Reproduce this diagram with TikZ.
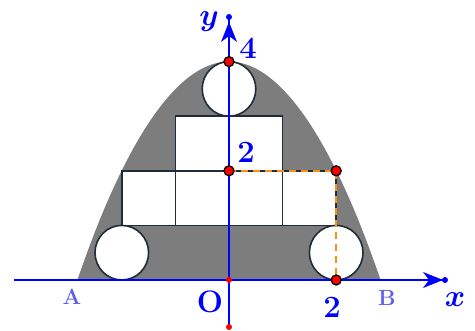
\RequirePackage{fix-cm}
\documentclass[tikz,border=0pt]{standalone}
\usepackage{fontspec}
\setmainfont{Latin Modern Roman}
\usepackage{bm}
\usetikzlibrary{arrows.meta}
\definecolor{edgec}{RGB}{30,45,55}
\definecolor{dashc}{RGB}{255,140,20}
\definecolor{lblA}{RGB}{95,95,235}
\definecolor{fillg}{RGB}{125,125,125}
\begin{document}
\begin{tikzpicture}[x=53.6pt,y=54.6pt,
  axis/.style={blue, line width=1.8pt},
  box/.style={draw=edgec, fill=white, line width=1.6pt},
  guide/.style={dashc, line width=1.6pt, dash pattern=on 7pt off 5pt},
  bigpt/.style={circle, fill=red, draw=black, line width=1.3pt, inner sep=0pt, minimum size=10pt},
  smallpt/.style={circle, fill=red, inner sep=0pt, minimum size=6pt},
  enddot/.style={circle, fill=blue, inner sep=0pt, minimum size=6pt},
  lbl/.style={blue, font=\fontsize{31}{31}\selectfont\bfseries, inner sep=0pt},
  ptlbl/.style={lblA, font=\fontsize{22}{22}\selectfont\bfseries, inner sep=0pt}]
\useasboundingbox (-229pt,-51pt) rectangle (246pt,280pt);
% region under the parabola
\fill[fillg] (-2.8284,0) parabola bend (0,4) (2.8284,0) -- cycle;
% boxes
\draw[box] (-1,2) rectangle (0,3);
\draw[box] (0,2) rectangle (1,3);
\draw[box] (-2,1) rectangle (-1,2);
\draw[box] (-1,1) rectangle (0,2);
\draw[box] (0,1) rectangle (1,2);
\draw[box] (1,1) rectangle (2,2);
% circles
\draw[box] (0,3.5) circle[radius=0.5];
\draw[box] (-2,0.5) circle[radius=0.5];
\draw[box] (2,0.5) circle[radius=0.5];
% axes
\coordinate (xs) at (-215pt,0);
\coordinate (xe) at (216pt,0);
\coordinate (xt) at (214pt,0);
\coordinate (ys) at (0,-47pt);
\coordinate (ye) at (0,263pt);
\coordinate (yt) at (0,258pt);
\draw[axis] (xs) -- (xe);
\draw[axis] (ys) -- (ye);
\draw[axis, -{Stealth[length=20pt,width=16pt,inset=6pt]}] (180pt,0) -- (xt);
\draw[axis, -{Stealth[length=20pt,width=16pt,inset=6pt]}] (0,225pt) -- (yt);
\node[enddot] (xdot) at (xe) {};
\node[enddot] (ydot) at (ye) {};
% guide lines
\coordinate (P02) at (0,2);
\coordinate (P22) at (2,2);
\coordinate (P20) at (2,0);
\draw[guide] (P02) -- (P22) -- (P20);
% points
\node[smallpt] (O) at (0,0) {};
\node[smallpt] (bot) at (ys) {};
\node[bigpt] (p04) at (0,4) {};
\node[bigpt] (p02) at (P02) {};
\node[bigpt] (p22) at (P22) {};
\node[bigpt] (p20) at (P20) {};
% labels
\node[lbl] (ly) at (-20pt,258pt) {$\bm{y}$};
\node[lbl] (l4) at (19pt,232pt) {4};
\node[lbl] (l2y) at (17pt,128pt) {2};
\node[lbl] (lO) at (-19pt,-22pt) {O};
\node[lbl] (l2x) at (103pt,-27pt) {2};
\node[lbl] (lx) at (226pt,-20pt) {$\bm{x}$};
\node[ptlbl] (lA) at (-157pt,-17pt) {A};
\node[ptlbl] (lB) at (158pt,-18pt) {B};
\end{tikzpicture}
\end{document}
